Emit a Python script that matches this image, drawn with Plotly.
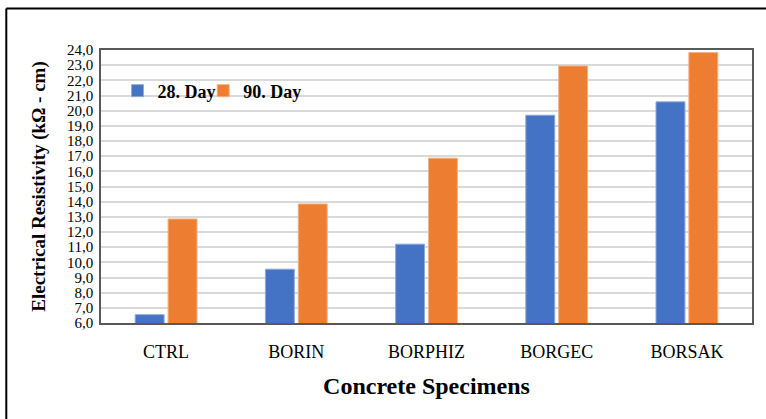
import plotly.graph_objects as go

categories = ["CTRL", "BORIN", "BORPHIZ", "BORGEC", "BORSAK"]
day28 = [6.55, 9.55, 11.2, 19.7, 20.58]
day90 = [12.86, 13.85, 16.87, 22.95, 23.83]
tick_vals = [6 + i for i in range(19)]

W, H = 766, 419
ml, mr, mt, mb = 101, 12, 50, 96
pw, ph = W - ml - mr, H - mt - mb

font_fam = "Liberation Serif, Times New Roman, serif"
leg_font = dict(size=18, family=font_fam, weight="bold")

fig = go.Figure()
fig.add_trace(go.Bar(x=categories, y=day28, name="28. Day", legend="legend", showlegend=True,
                     marker=dict(color="#4472C4", line=dict(color="#8EA9DB", width=1))))
fig.add_trace(go.Bar(x=categories, y=day90, name="90. Day", legend="legend2", showlegend=True,
                     marker=dict(color="#ED7D31", line=dict(color="#F4B183", width=1))))

fig.update_layout(
    width=W, height=H,
    margin=dict(l=ml, r=mr, t=mt, b=mb),
    paper_bgcolor="white", plot_bgcolor="white",
    separators=",.",
    showlegend=True,
    barmode="group", bargap=0.495, bargroupgap=0.12,
    font=dict(family=font_fam, color="black"),
    legend=dict(orientation="h", x=0.0254, y=0.85, xanchor="left", yanchor="middle",
                bgcolor="rgba(0,0,0,0)", font=leg_font, itemwidth=30, visible=True),
    legend2=dict(orientation="h", x=0.157, y=0.85, xanchor="left", yanchor="middle",
                 bgcolor="rgba(0,0,0,0)", font=leg_font, itemwidth=30, visible=True),
    xaxis=dict(showline=True, linecolor="#595959", linewidth=1.5, mirror=True,
               tickfont=dict(size=18), ticks="", ticklabelstandoff=12,
               title=dict(text="Concrete Specimens", font=dict(size=24, weight="bold"),
                          standoff=16)),
    yaxis=dict(range=[6, 24], tickvals=tick_vals, tickformat=".1f",
               showgrid=True, gridcolor="#d9d9d9", gridwidth=1.5,
               showline=True, linecolor="#595959", linewidth=1.5, mirror=True,
               tickfont=dict(size=15), ticks="", zeroline=False, ticklabelstandoff=3,
               title=dict(text="Electrical Resistivity (kΩ - cm)",
                          font=dict(size=19, weight="bold"), standoff=16)),
    shapes=[
        dict(type="line", xref="paper", yref="paper",
             x0=(6 - ml) / pw, x1=(W + 5 - ml) / pw,
             y0=1 + (mt - 8.5) / ph, y1=1 + (mt - 8.5) / ph,
             line=dict(color="black", width=2)),
        dict(type="line", xref="paper", yref="paper",
             x0=(6 - ml) / pw, x1=(6 - ml) / pw,
             y0=1 + (mt - 8.5) / ph, y1=-(mb + 5) / ph,
             line=dict(color="black", width=2)),
    ],
)

fig.write_html("out.html", config={"displayModeBar": False},
               post_script="document.body.style.margin='0';")
